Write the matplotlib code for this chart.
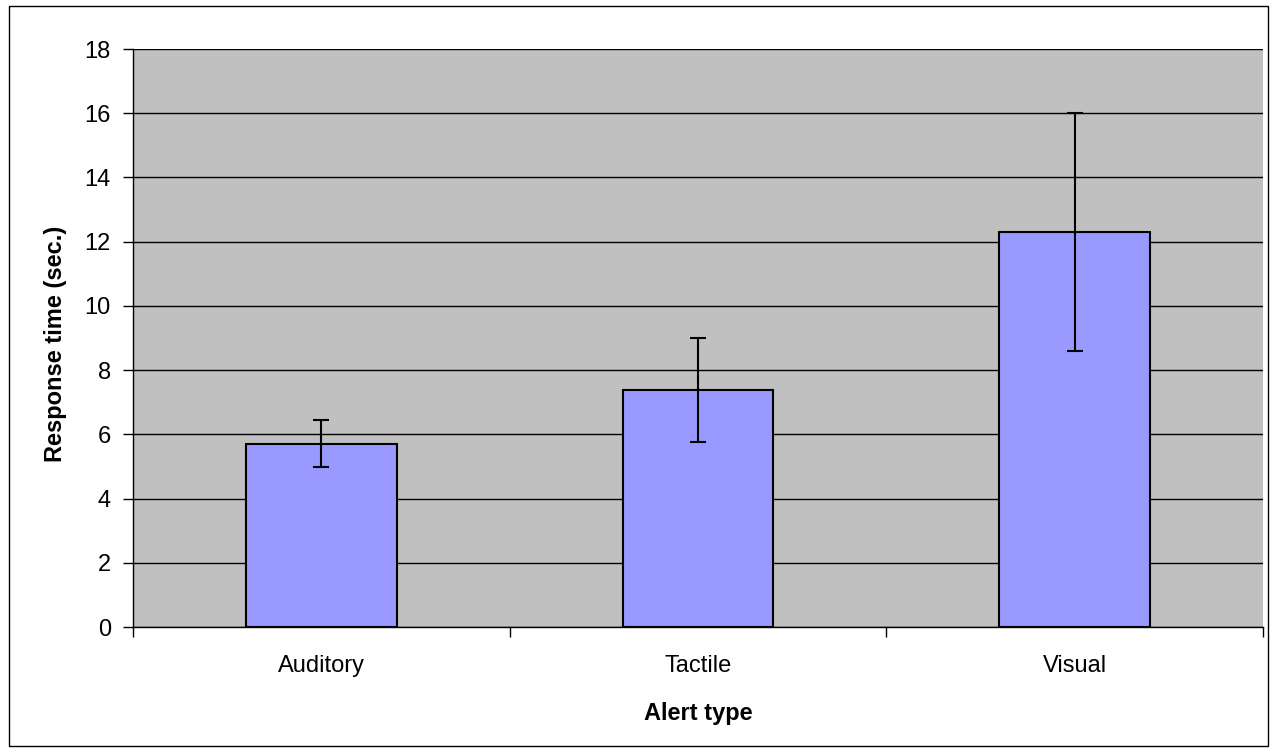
import matplotlib
matplotlib.use("Agg")
import matplotlib.pyplot as plt
from matplotlib.patches import Rectangle
import numpy as np

categories = ["Auditory", "Tactile", "Visual"]
means = [5.71, 7.38, 12.31]
errors = [0.74, 1.61, 3.71]
yticks = [0, 2, 4, 6, 8, 10, 12, 14, 16, 18]

plt.rcParams['font.family'] = ['Liberation Sans', 'DejaVu Sans']

W, H = 1270, 748
fig = plt.figure(figsize=(W/100, H/100), dpi=100)
ax = fig.add_axes([133/W, 1-627/H, (1263-133)/W, (627-49)/H])
ax.set_facecolor('#C0C0C0')

x = np.arange(len(categories))
ax.bar(x, means, width=0.4, color='#9999FF', edgecolor='black', linewidth=1.5, zorder=3)
ax.errorbar(x, means, yerr=errors, fmt='none', ecolor='black', elinewidth=1.5,
            capsize=6, capthick=1.5, zorder=4)

ax.set_xlim(-0.5, len(categories)-0.5)
ax.set_ylim(0, 18)
ax.set_yticks(yticks)
ax.set_yticklabels([str(t) for t in yticks], fontsize=17)
ax.yaxis.grid(True, color='black', linewidth=1)
ax.set_axisbelow(True)

ax.set_xticks(x)
ax.set_xticklabels(categories, fontsize=17)
ax.set_xticks(np.arange(-0.5, len(categories), 1), minor=True)
ax.tick_params(axis='x', which='major', length=0, pad=20.5)
ax.tick_params(axis='x', which='minor', length=7, direction='out', width=1)
ax.tick_params(axis='y', length=7, direction='out', width=1, pad=9)

for s in ['top', 'right']:
    ax.spines[s].set_visible(False)
ax.spines['left'].set_linewidth(1)
ax.spines['bottom'].set_linewidth(1)

ax.set_xlabel("Alert type", fontsize=17, fontweight='bold')
ax.set_ylabel("Response time (sec.)", fontsize=17, fontweight='bold')
ax.xaxis.set_label_coords(0.5, (627-702)/578)
ax.yaxis.set_label_coords((67-133)/1130, 0.49)

fig.patches.append(Rectangle((9/W, 2/H), (1268-9)/W, (742-2)/H, transform=fig.transFigure,
                             fill=False, edgecolor='black', linewidth=1))

fig.savefig("out.png", dpi=100)
